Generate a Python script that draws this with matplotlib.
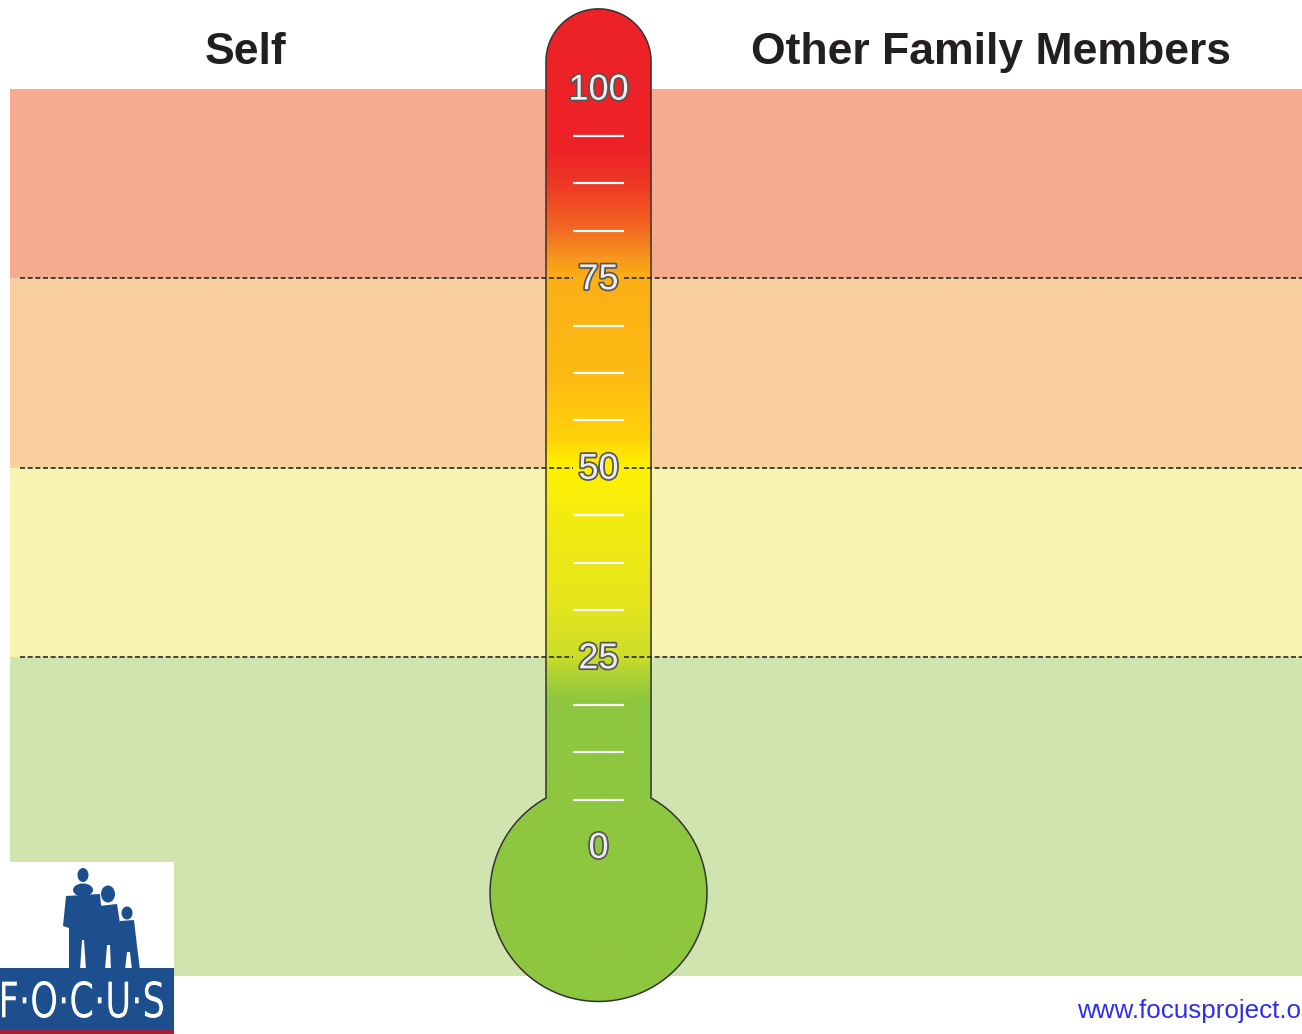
import numpy as np
import matplotlib.pyplot as plt
import matplotlib.patheffects as pe
from matplotlib.colors import LinearSegmentedColormap
from matplotlib.patches import Polygon, Rectangle, Ellipse, PathPatch
from matplotlib.textpath import TextPath
from matplotlib.font_manager import FontProperties
from matplotlib.transforms import Affine2D

# thermometer scale
scale_labels = [0, 25, 50, 75, 100]
minor_ticks = [6.25, 12.5, 18.75, 31.25, 37.5, 43.75,
               56.25, 62.5, 68.75, 81.25, 87.5, 93.75]

# background zones
zone_tops = [100, 75, 50, 25]
zone_bottoms = [75, 50, 25, -17]
zone_colors = ['#F7AB8E', '#FACFA0', '#F8F4B0', '#D0E4B0']
divider_levels = [75, 50, 25]

titles = ['Self', 'Other Family Members']
url = 'www.focusproject.org'

# colour stops of the mercury (value, colour)
grad_values = [-21, 19, 22, 25, 32, 44, 50, 54, 62, 75, 78, 82, 87, 92, 112]
grad_colors = ['#8DC63F', '#8DC63F', '#A8D035', '#CCDD29', '#E6E51C', '#F4EC0F',
               '#FFF200', '#FFD20A', '#FDBA13', '#FBB016', '#F7941D', '#F26522',
               '#EE3B24', '#ED2227', '#ED2227']

# layout (data units, 1 unit = one scale point)
xmin, xmax = -78.96, 92.81
ymin, ymax = -24.67, 111.7
tube_w = 6.93
cap_c = 103.6
bulb_c = -6.07
bulb_r = 14.31

fig = plt.figure(figsize=(13.02, 10.34), dpi=100)
ax = fig.add_axes([0, 0, 1, 1])

# zones
zone_left = -77.6
for top, bot, col in zip(zone_tops, zone_bottoms, zone_colors):
    ax.bar(zone_left, top - bot, bottom=bot, width=xmax - zone_left,
           align='edge', color=col, linewidth=0, zorder=1)

# thermometer outline shape
y_int = bulb_c + np.sqrt(bulb_r**2 - tube_w**2)
th1 = np.arctan2(y_int - bulb_c, tube_w)
cap = np.linspace(np.pi, 0, 60)
arc = np.linspace(th1, -np.pi - th1, 160)
xs = np.concatenate([[-tube_w], tube_w * np.cos(cap), [tube_w],
                     bulb_r * np.cos(arc)])
ys = np.concatenate([[y_int], cap_c + tube_w * np.sin(cap), [y_int],
                     bulb_c + bulb_r * np.sin(arc)])
shape = Polygon(np.column_stack([xs, ys]), closed=True, fc='none',
                ec='#333333', lw=1.1, zorder=5)
ax.add_patch(shape)

cmap = LinearSegmentedColormap.from_list(
    'mercury', [((v - grad_values[0]) / (grad_values[-1] - grad_values[0]), c)
                for v, c in zip(grad_values, grad_colors)])
grad = np.linspace(0, 1, 600)[:, None]
img = ax.imshow(grad, extent=(-bulb_r - 1, bulb_r + 1, grad_values[0], grad_values[-1]),
                origin='lower', cmap=cmap, aspect='auto', zorder=3)
img.set_clip_path(shape)

# white minor ticks
ax.hlines(minor_ticks, -3.36, 3.36, color='white', lw=1.6, zorder=6)

# dividers
dash = (0, (3, 1.6))
gap = 3.4
ax.hlines(divider_levels, -76.3, -gap, color='#2A2A2A', lw=1.2, linestyles=[dash], zorder=7)
ax.hlines(divider_levels, gap, xmax, color='#2A2A2A', lw=1.2, linestyles=[dash], zorder=7)

# scale labels
for v in scale_labels:
    ax.text(0, v - 1.45, str(v), ha='center', va='baseline', fontsize=26,
            family='Liberation Sans', color='#EDEDED', zorder=8,
            path_effects=[pe.withStroke(linewidth=2.5, foreground='#555555')])

# titles
ax.text(-46.6, 103.3, titles[0], ha='center', va='baseline', fontsize=32,
        fontweight='bold', family='Liberation Sans', color='#231F20')
ax.text(51.8, 103.3, titles[1], ha='center', va='baseline', fontsize=32,
        fontweight='bold', family='Liberation Sans', color='#231F20')

ax.text(63.1, -22.56, url, ha='left', va='baseline', fontsize=18.7,
        family='Liberation Sans', color='#2E2EEE')

ax.set_xlim(xmin, xmax)
ax.set_ylim(ymin, ymax)
ax.axis('off')

# logo (page pixel coordinates)
lax = fig.add_axes([0, 0, 174 / 1302, 172 / 1034])
lax.set_xlim(0, 174)
lax.set_ylim(1034, 862)
lax.axis('off')
blue = '#1D4F8E'
lax.add_patch(Rectangle((0, 862), 174, 172, color='white', lw=0))
lax.add_patch(Rectangle((0, 968), 174, 62, color=blue, lw=0))
lax.add_patch(Rectangle((0, 1030), 174, 4, color='#A3203A', lw=0))

figures = [
    [(66, 896), (100, 894), (103, 926), (98, 928), (97, 970), (86, 970),
     (84, 940), (82, 940), (80, 970), (69, 970), (69, 928), (63, 926)],
    [(99, 906), (117, 904), (122, 936), (121, 970), (111, 970), (110, 945),
     (107, 945), (105, 970), (97, 970), (97, 937), (93, 946), (92, 940), (96, 915)],
    [(120, 921), (134, 920), (137, 946), (140, 970), (132, 970), (130, 952),
     (127, 952), (125, 970), (119, 970), (118, 946)],
]
for pts in figures:
    lax.add_patch(Polygon(pts, closed=True, color=blue, lw=0))
heads = [(83, 875, 11, 14), (83, 890, 20, 13), (108, 894, 14, 17), (127, 913, 11, 13)]
for hx, hy, hw, hh in heads:
    lax.add_patch(Ellipse((hx, hy), hw, hh, color=blue, lw=0))

tp = TextPath((0, 0), 'F·O·C·U·S', size=40, prop=FontProperties(family='DejaVu Sans'))
ext = tp.get_extents()
tr = Affine2D().translate(-ext.x0, -ext.y0).scale(161 / ext.width, -37 / ext.height).translate(2, 1018)
lax.add_patch(PathPatch(tr.transform_path(tp), color='white', lw=0))

fig.savefig('out.png', dpi=100)
